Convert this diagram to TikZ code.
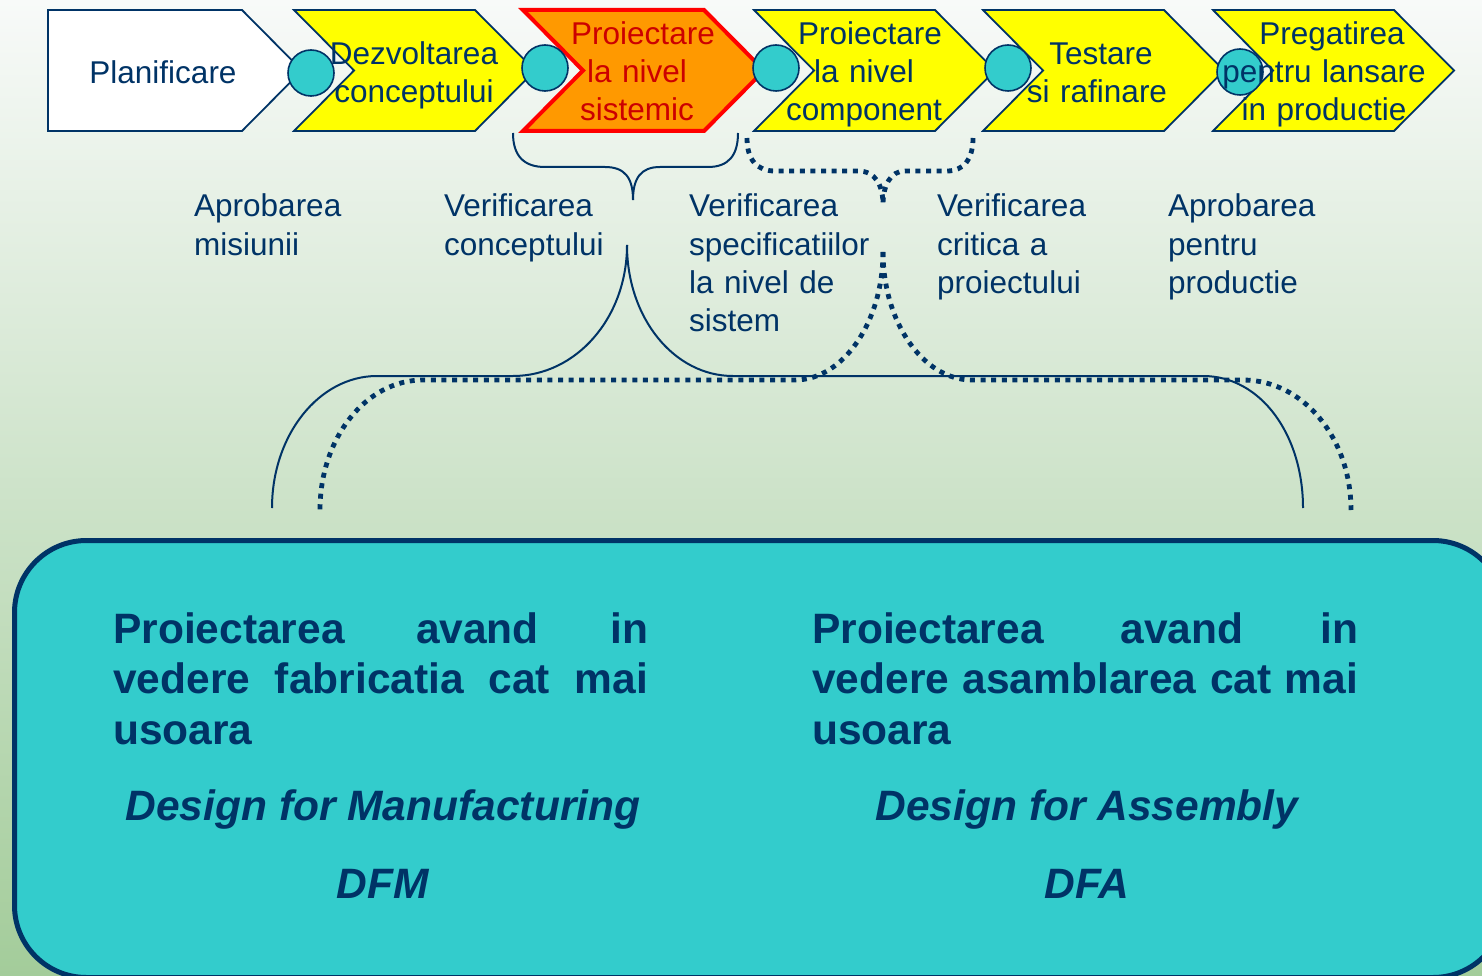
\documentclass[tikz,border=0pt]{standalone}
\usepackage{fontspec}
\setmainfont{Liberation Sans}[Ligatures=NoCommon]
\definecolor{navy}{HTML}{003366}
\definecolor{tealfill}{HTML}{33CCCC}
\definecolor{stageyellow}{HTML}{FFFF00}
\definecolor{stageorange}{HTML}{FF9900}
\definecolor{stagered}{HTML}{FF0000}
\definecolor{darkred}{HTML}{CC0000}
\definecolor{bgtop}{HTML}{F8FAF9}
\definecolor{bgmid}{HTML}{E0ECDD}
\definecolor{bgbot}{HTML}{A3CC9A}
% chevron outline, left edge at x = #1
\newcommand{\chevronpath}[1]{(#1,10) -- ++(181,0) -- ++(60,60.5) -- ++(-60,60.5) -- ++(-181,0) -- ++(60,-60.5) -- cycle}
% a justified line of the given width
\newcommand{\fullline}[2]{\leavevmode\hbox to #1{#2}}
\begin{document}
\begin{tikzpicture}[x=1pt,y=-1pt,
  stagebox/.style={fill=stageyellow,draw=navy,line width=1.8pt},
  hotbox/.style={fill=stageorange,draw=stagered,line width=4pt},
  gate/.style={circle,minimum size=46pt,inner sep=0pt,fill=tealfill,draw=navy,line width=1.6pt},
  stagetext/.style={anchor=base,text width=240pt,align=center,inner sep=0pt,text=navy,
    font=\fontsize{31.5}{38}\selectfont},
  gatetext/.style={anchor=base west,text width=220pt,align=left,inner sep=0pt,text=navy,
    font=\fontsize{31.5}{38.3}\selectfont},
  solidbrace/.style={draw=navy,line width=2pt},
  dotbrace/.style={draw=navy,line width=4.8pt,dash pattern=on 5pt off 5.6pt},
  boxhead/.style={anchor=base west,inner sep=0pt,text=navy,align=left,text width=560pt,
    font=\fontsize{42.5}{50.8}\selectfont\bfseries},
  boxname/.style={anchor=base,inner sep=0pt,text=navy,
    font=\fontsize{42.5}{51}\selectfont\bfseries\itshape}]
\useasboundingbox (0,0) rectangle (1482,976);
\clip (0,0) rectangle (1482,976);

% background
\shade[top color=bgtop,middle color=bgmid,bottom color=bgbot] (0,0) rectangle (1482,976);

% process stages
\draw[fill=white,draw=navy,line width=1.8pt] (48,10) -- (242,10) -- (302,70.5) -- (242,131) -- (48,131) -- cycle;
\draw[stagebox] \chevronpath{294};
\draw[hotbox] \chevronpath{523};
\draw[stagebox] \chevronpath{754};
\draw[stagebox] \chevronpath{983};
\draw[stagebox] \chevronpath{1213};

% review gates
\node[gate] (g1) at (311,73) {};
\node[gate] (g2) at (545,68) {};
\node[gate] (g3) at (776,68) {};
\node[gate] (g4) at (1008,68) {};
\node[gate] (g5) at (1240,72) {};

% stage names
\node[stagetext] (s1) at (163,84) {Planificare};
\node[stagetext] (s2) at (414,65) {Dezvoltarea\\conceptului};
\node[stagetext,text=darkred] (s3) at (637,45) {\hspace*{12pt}Proiectare\\la nivel\\sistemic};
\node[stagetext] (s4) at (864,45) {\hspace*{12pt}Proiectare\\la nivel\\component};
\node[stagetext] (s5) at (1097,65) {\hspace*{8pt}Testare\\si rafinare};
\node[stagetext] (s6) at (1324,45) {\hspace*{16pt}Pregatirea\\pentru lansare\\in productie};

% gate names
\node[gatetext] (r1) at (194,217) {Aprobarea\\misiunii};
\node[gatetext] (r2) at (444,217) {Verificarea\\conceptului};
\node[gatetext] (r3) at (689,217) {Verificarea\\specificatiilor\\la nivel de\\sistem};
\node[gatetext] (r4) at (937,217) {Verificarea\\critica a\\proiectului};
\node[gatetext] (r5) at (1168,217) {Aprobarea\\pentru\\productie};

% small brace under the system-level stage
\draw[solidbrace] (513,133) .. controls (513,156) and (524,167) .. (545,167) -- (605,167)
  .. controls (625,167) and (633,178) .. (633,200);
\draw[solidbrace] (738,133) .. controls (738,156) and (728,167) .. (708,167) -- (660,167)
  .. controls (641,167) and (633,178) .. (633,200);

% small dotted brace under the component-level stage
\draw[dotbrace] (747,138) .. controls (747,160) and (757,171) .. (775,171) -- (858,171)
  .. controls (876,171) and (883,186) .. (883,205);
\draw[dotbrace] (973,138) .. controls (973,160) and (963,171) .. (947,171) -- (905,171)
  .. controls (890,171) and (883,186) .. (883,205);

% large solid bracket
\draw[solidbrace] (627,245) .. controls (627,318) and (576,376) .. (513,376) -- (377,376)
  .. controls (319,376) and (272,435) .. (272,508);
\draw[solidbrace] (627,245) .. controls (627,318) and (674,376) .. (733,376) -- (1203,376)
  .. controls (1261,376) and (1303,435) .. (1303,508);

% large dotted bracket
\draw[dotbrace] (883,252) .. controls (883,322) and (843,380) .. (795,380) -- (423,380)
  .. controls (366,380) and (320,438) .. (320,510);
\draw[dotbrace] (883,252) .. controls (883,322) and (923,380) .. (972,380) -- (1243,380)
  .. controls (1303,380) and (1351,438) .. (1351,510);

% method panel
\draw[fill=tealfill,draw=navy,line width=5pt,rounded corners=72pt] (14.5,540.5) rectangle (1505,977.5);

\node[boxhead] (dfmtext) at (113,643)
  {\fullline{535pt}{Proiectarea\hfill avand\hfill in}\\
   \fullline{535pt}{vedere\hfill fabricatia\hfill cat\hfill mai}\\usoara};
\node[boxname] (dfmname) at (383,820) {Design for Manufacturing};
\node[boxname] (dfmabbr) at (383,898) {DFM};

\node[boxhead] (dfatext) at (812,643)
  {\fullline{546pt}{Proiectarea\hfill avand\hfill in}\\
   \fullline{546pt}{vedere\hfill asamblarea\hfill cat\hfill mai}\\usoara};
\node[boxname] (dfaname) at (1087,820) {Design for Assembly};
\node[boxname] (dfaabbr) at (1087,898) {DFA};
\end{tikzpicture}
\end{document}
